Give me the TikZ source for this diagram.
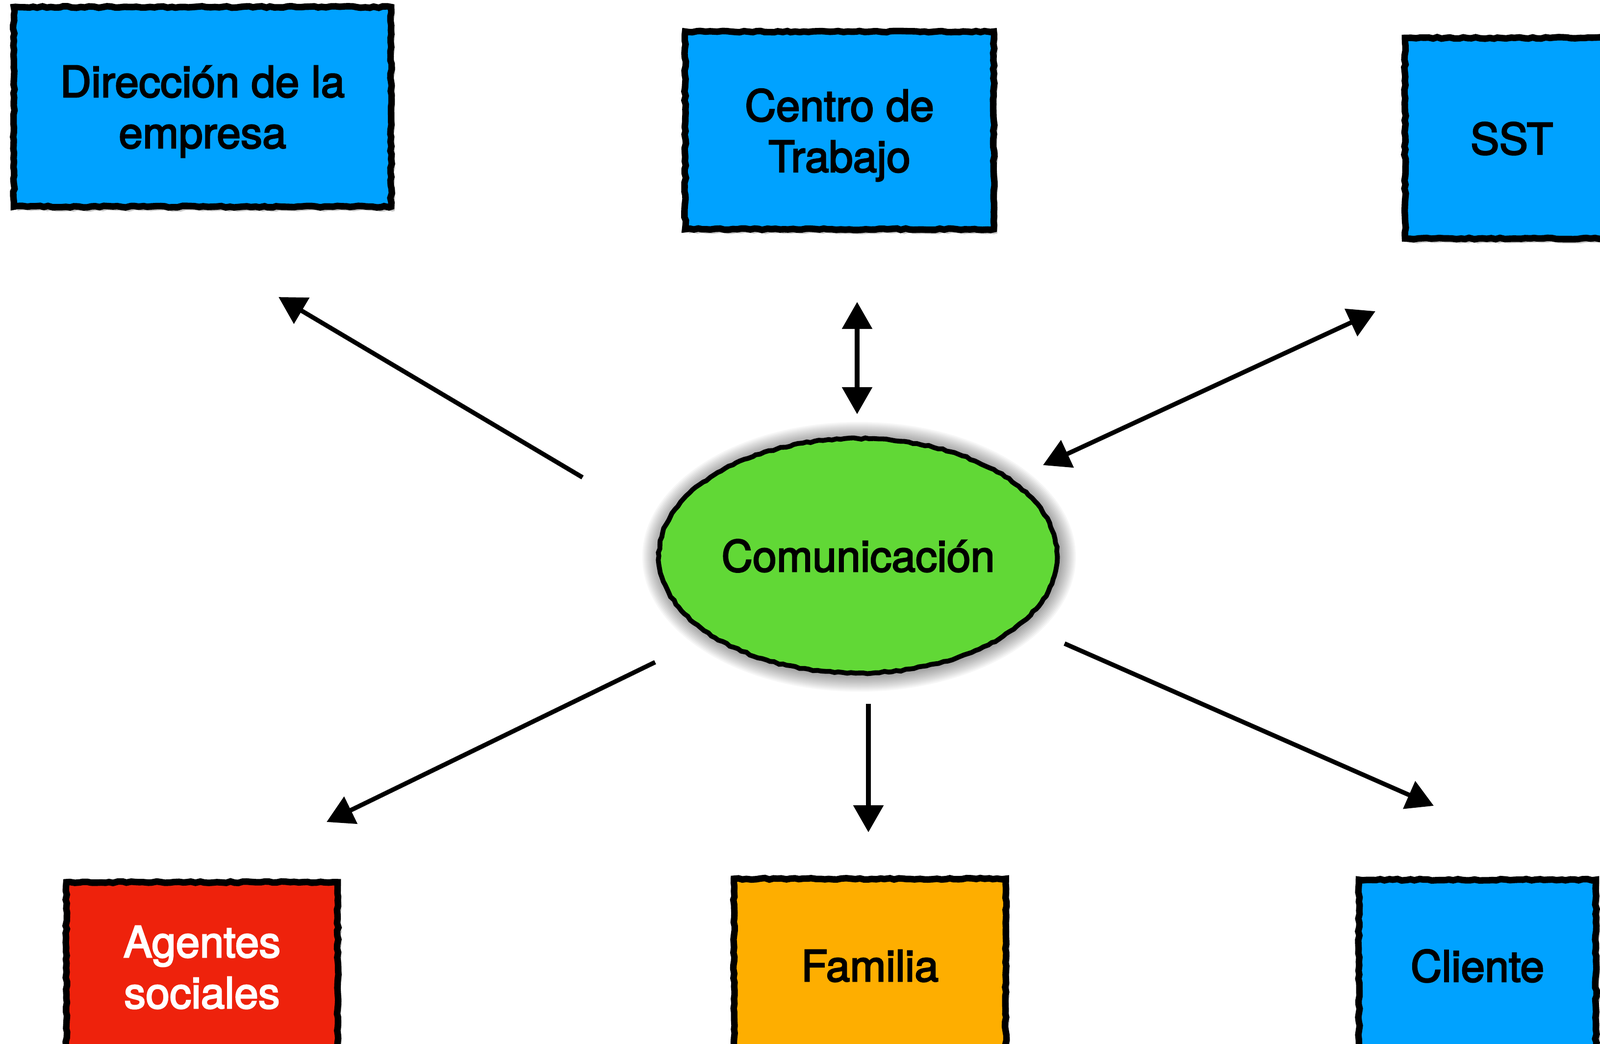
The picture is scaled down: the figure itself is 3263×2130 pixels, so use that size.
\documentclass[tikz,border=0pt]{standalone}
\usepackage{fontspec}
\setmainfont{TeX Gyre Heros}
\newfontfamily\diafont{TeX Gyre Heros}[FakeBold=3]
\usetikzlibrary{arrows.meta,shapes.geometric,shadows,decorations.pathmorphing}
\definecolor{kblue}{HTML}{00A2FF}
\definecolor{kred}{HTML}{EE220C}
\definecolor{korange}{HTML}{FEAE00}
\definecolor{kgreen}{HTML}{61D836}
\tikzset{
  rough/.style={decorate, decoration={random steps, segment length=2.5pt, amplitude=0.45pt}},
  box/.style={rectangle, draw=black, line width=3.8pt, inner sep=0pt, align=center,
    font=\diafont\fontsize{25}{29.6}\selectfont, text depth=0pt, rough,
    drop shadow={shadow xshift=2pt, shadow yshift=-2.5pt, opacity=0.22, fill=black}},
  bluebox/.style={box, fill=kblue, text=black},
  redbox/.style={box, fill=kred, text=white},
  orangebox/.style={box, fill=korange, text=black},
  hub/.style={ellipse, draw=black, line width=2.8pt, fill=kgreen, inner sep=0pt,
    font=\diafont\fontsize{25}{29.6}\selectfont, rough},
  link/.style={line width=2.6pt, -{Triangle[length=0.55cm, width=0.6cm]}},
  biglink/.style={line width=2.6pt, {Triangle[length=0.55cm, width=0.6cm]}-{Triangle[length=0.55cm, width=0.6cm]}},
}
\begin{document}
\begin{tikzpicture}[x=0.01cm, y=-0.01cm]
\useasboundingbox (0,0) rectangle (3263,2130);
\clip (0,0) rectangle (3263,2130);
\fill[white] (0,0) rectangle (3263,2130);

% boxes
\node[bluebox, minimum width=7.69cm, minimum height=4.07cm] (dir) at (413,218) {Dirección de la\\empresa};
\node[bluebox, minimum width=6.29cm, minimum height=4.03cm] (cen) at (1712,266) {Centro de\\Trabajo};
\node[bluebox, minimum width=4.35cm, minimum height=4.09cm] (sst) at (3083,282) {SST};
\node[redbox, minimum width=5.53cm, minimum height=3.46cm] (age) at (412,1973) {Agentes\\sociales};
\node[orangebox, minimum width=5.54cm, minimum height=3.54cm] (fam) at (1774,1970) {Familia};
\node[bluebox, minimum width=4.83cm, minimum height=3.50cm] (cli) at (3013,1970) {Cliente};

% glow of the hub
\foreach \i in {1,...,12}{
  \fill[black, opacity=0.035] (1752,1136) ellipse [x radius={406+3*\i}, y radius={239+3*\i}];
}
\node[hub, minimum width=8.12cm, minimum height=4.78cm] (com) at (1750,1134) {Comunicación};

% connector end points
\coordinate (c1) at (1188,974);  \coordinate (d1) at (568,606);
\coordinate (c2) at (1748,845);  \coordinate (d2) at (1748,616);
\coordinate (c3) at (2127,949);  \coordinate (d3) at (2805,635);
\coordinate (c4) at (1336,1351); \coordinate (d4) at (666,1677);
\coordinate (c5) at (1771,1436); \coordinate (d5) at (1771,1698);
\coordinate (c6) at (2171,1313); \coordinate (d6) at (2924,1644);

\draw[link] (c1) -- (d1);
\draw[biglink] (c2) -- (d2);
\draw[biglink] (c3) -- (d3);
\draw[link] (c4) -- (d4);
\draw[link] (c5) -- (d5);
\draw[link] (c6) -- (d6);
\end{tikzpicture}
\end{document}
